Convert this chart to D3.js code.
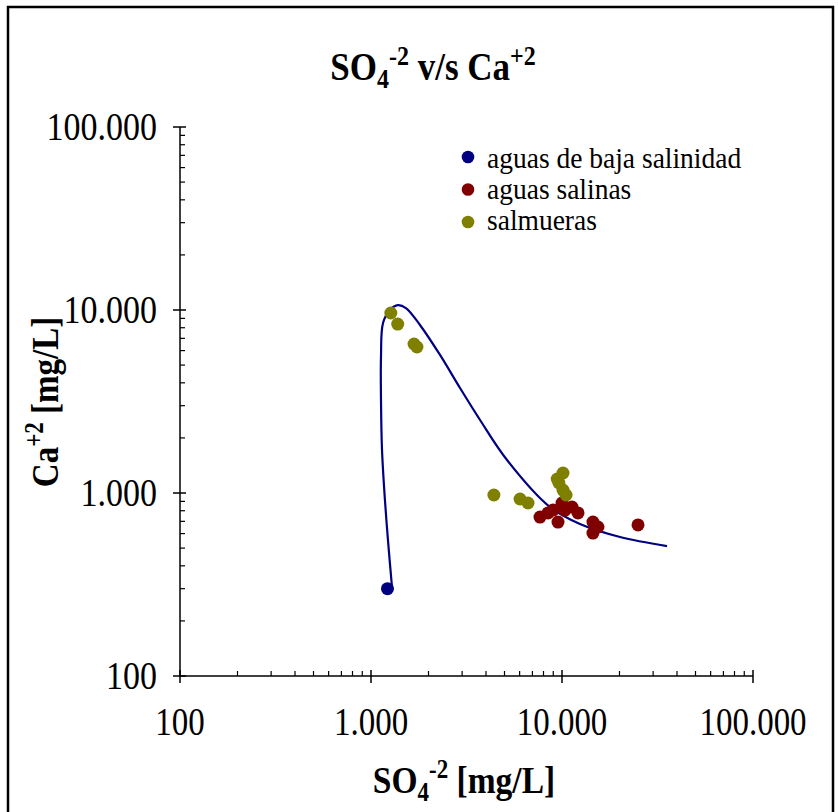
<!DOCTYPE html>
<html>
<head>
<meta charset="utf-8">
<script src="https://cdn.jsdelivr.net/npm/d3@7"></script>
<style>
  body { margin: 0; background: #fff; }
  svg { display: block; }
  text { font-family: "Liberation Serif", "Times New Roman", serif; fill: #000; }
</style>
</head>
<body>
<svg id="chart" width="838" height="812"></svg>
<script>
// ---- data ----
const seriesNames = ["aguas de baja salinidad", "aguas salinas", "salmueras"];
const seriesColors = ["#000080", "#800000", "#808000"];

const bajaX = [1220];
const bajaY = [300];

const salinasX = [7670, 8450, 8970, 9530, 10000, 10370, 11280, 12130, 14520, 15420, 14520, 25000];
const salinasY = [739, 778, 807, 694, 882, 807, 838, 778, 694, 652, 604, 669];

const salmuerasX = [1270, 1380, 1680, 1740, 4400, 6030, 6640, 9440, 10120, 9640, 10120, 10500];
const salmuerasY = [9630, 8380, 6520, 6280, 975, 927, 882, 1193, 1286, 1135, 1038, 975];

// trend curve (log-log)
const curveX = [1290, 1227, 1183, 1142, 1128, 1128, 1156, 1256, 1383, 1524, 1805, 2298, 2924, 3724, 5155, 8650, 12420, 20120, 35480];
const curveY = [300, 553, 916, 1718, 3221, 5534, 8491, 10000, 10640, 10250, 8280, 5680, 3750, 2506, 1514, 838, 677, 575, 513];

const xMajor = [100, 1000, 10000, 100000];
const yMajor = [100, 1000, 10000, 100000];
const xTickLabels = ["100", "1.000", "10.000", "100.000"];
const yTickLabels = ["100", "1.000", "10.000", "100.000"];

// ---- drawing ----
const svg = d3.select("#chart");
const x = d3.scaleLog().domain([100, 100000]).range([180, 753]);
const y = d3.scaleLog().domain([100, 100000]).range([676, 127]);
const SY = 1.2; // vertical stretch of the reference's text

// outer frame
svg.append("rect").attr("x", 8).attr("y", 7).attr("width", 825).attr("height", 830)
  .attr("fill", "none").attr("stroke", "#000").attr("stroke-width", 2.5);

// minor ticks
const minors = [];
for (let d = 100; d < 100000; d *= 10) for (let k = 2; k <= 9; k++) minors.push(d * k);

const gx = svg.append("g").attr("transform", "translate(0,676)");
gx.append("line").attr("x1", 180).attr("x2", 753).attr("stroke", "#000").attr("stroke-width", 1.5);
gx.selectAll(".minor").data(minors).join("line")
  .attr("x1", d => x(d)).attr("x2", d => x(d)).attr("y1", 0).attr("y2", -5)
  .attr("stroke", "#000").attr("stroke-width", 1.2);
gx.selectAll(".major").data(xMajor).join("line")
  .attr("x1", d => x(d)).attr("x2", d => x(d)).attr("y1", -6).attr("y2", 7)
  .attr("stroke", "#000").attr("stroke-width", 1.5);
gx.selectAll(".lbl").data(xMajor).join("text")
  .attr("transform", d => `translate(${x(d)},59) scale(1,${SY})`).attr("text-anchor", "middle")
  .attr("font-size", 33).text((d, i) => xTickLabels[i]);

const gy = svg.append("g").attr("transform", "translate(180,0)");
gy.append("line").attr("y1", 127).attr("y2", 676).attr("stroke", "#000").attr("stroke-width", 1.5);
gy.selectAll(".minor").data(minors).join("line")
  .attr("y1", d => y(d)).attr("y2", d => y(d)).attr("x1", 0).attr("x2", 5)
  .attr("stroke", "#000").attr("stroke-width", 1.2);
gy.selectAll(".major").data(yMajor).join("line")
  .attr("y1", d => y(d)).attr("y2", d => y(d)).attr("x1", -7).attr("x2", 6)
  .attr("stroke", "#000").attr("stroke-width", 1.5);
gy.selectAll(".lbl").data(yMajor).join("text")
  .attr("transform", d => `translate(-23,${y(d) + 13}) scale(1,${SY})`).attr("text-anchor", "end")
  .attr("font-size", 34).text((d, i) => yTickLabels[i]);

// curve
const line = d3.line().x(d => x(d[0])).y(d => y(d[1])).curve(d3.curveCatmullRom.alpha(0.5));
svg.append("path").datum(curveX.map((v, i) => [v, curveY[i]]))
  .attr("d", line).attr("fill", "none").attr("stroke", "#000080").attr("stroke-width", 2.2);

// points
const series = [
  [bajaX, bajaY],
  [salinasX, salinasY],
  [salmuerasX, salmuerasY]
];
const drawOrder = [1, 2, 0];
drawOrder.forEach(si => {
  const [xs, ys] = series[si];
  svg.append("g").selectAll("circle").data(xs.map((v, i) => [v, ys[i]])).join("circle")
    .attr("cx", d => x(d[0])).attr("cy", d => y(d[1])).attr("r", 6.5)
    .attr("fill", seriesColors[si]);
});

// legend
const lg = svg.append("g");
seriesNames.forEach((n, i) => {
  lg.append("circle").attr("cx", 468).attr("cy", 157 + i * 32.5).attr("r", 6.3).attr("fill", seriesColors[i]);
  lg.append("text").attr("transform", `translate(487,${168 + i * 31}) scale(1,1.08)`)
    .attr("font-size", 27.5).text(n);
});

// title
const t = svg.append("text").attr("transform", `translate(433,80) scale(1,1.15)`).attr("text-anchor", "middle")
  .attr("font-size", 35).attr("font-weight", "bold");
t.append("tspan").text("SO");
t.append("tspan").attr("font-size", 24).attr("dy", 7).text("4");
t.append("tspan").attr("font-size", 24).attr("dy", -20).text("-2");
t.append("tspan").attr("dy", 13).text(" v/s Ca");
t.append("tspan").attr("font-size", 24).attr("dy", -13).text("+2");

// x axis title
const xt = svg.append("text").attr("transform", `translate(464,793) scale(1,1.15)`).attr("text-anchor", "middle")
  .attr("font-size", 33.5).attr("font-weight", "bold");
xt.append("tspan").text("SO");
xt.append("tspan").attr("font-size", 23).attr("dy", 7).text("4");
xt.append("tspan").attr("font-size", 23).attr("dy", -20).text("-2");
xt.append("tspan").attr("dy", 13).text(" [mg/L]");

// y axis title
const yt = svg.append("text").attr("transform", "translate(58,402) rotate(-90) scale(1,1.15)")
  .attr("text-anchor", "middle").attr("font-size", 33).attr("font-weight", "bold");
yt.append("tspan").text("Ca");
yt.append("tspan").attr("font-size", 23).attr("dy", -13).text("+2");
yt.append("tspan").attr("dy", 13).text(" [mg/L]");
</script>
</body>
</html>
